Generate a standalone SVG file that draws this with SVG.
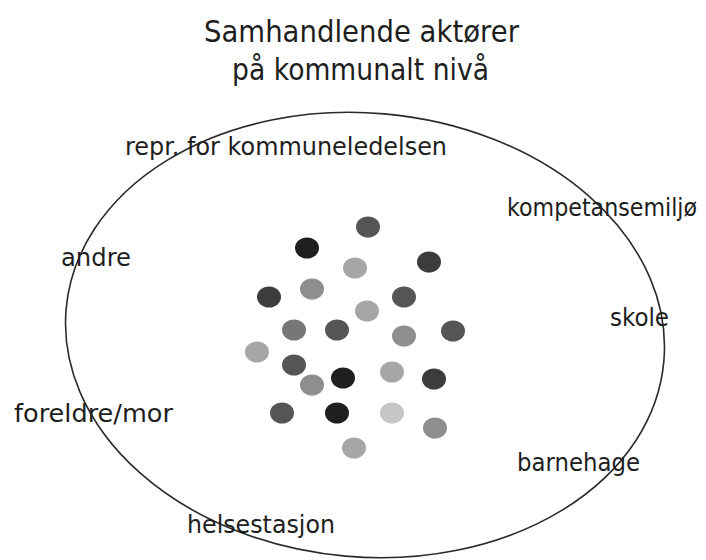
<svg xmlns="http://www.w3.org/2000/svg" width="706" height="560" viewBox="0 0 706 560">
<style>
.t{font-family:"DejaVu Sans","Liberation Sans",sans-serif;fill:#1e1e1e}
.title{font-size:31px}
.lbl{font-size:25px}
.ring{fill:none;stroke:#2a2a2a;stroke-width:1.6}
.d1{fill:#1f1f1f}.d2{fill:#3c3c3c}.d3{fill:#555}.d4{fill:#777}.d5{fill:#8e8e8e}.d6{fill:#a6a6a6}.d7{fill:#c6c6c6}
</style>
<rect width="706" height="560" fill="#fff"/>
<g id="title">
<text class="t title" x="204" y="42" textLength="315" lengthAdjust="spacingAndGlyphs">Samhandlende aktører</text>
<text class="t title" x="232" y="80" textLength="257" lengthAdjust="spacingAndGlyphs">på kommunalt nivå</text>
</g>
<g id="ring">
<ellipse class="ring" cx="365" cy="335" rx="300" ry="222" transform="rotate(5 365 335)"/>
</g>
<g id="labels">
<g id="repr"><text class="t lbl" x="125" y="155" textLength="322" lengthAdjust="spacingAndGlyphs">repr. for kommuneledelsen</text></g>
<g id="kompetansemiljo"><text class="t lbl" x="507" y="216" textLength="190" lengthAdjust="spacingAndGlyphs">kompetansemiljø</text></g>
<g id="andre"><text class="t lbl" x="61" y="266" textLength="70" lengthAdjust="spacingAndGlyphs">andre</text></g>
<g id="skole"><text class="t lbl" x="610" y="326" textLength="59" lengthAdjust="spacingAndGlyphs">skole</text></g>
<g id="foreldre"><text class="t lbl" x="14" y="422" textLength="159" lengthAdjust="spacingAndGlyphs">foreldre/mor</text></g>
<g id="barnehage"><text class="t lbl" x="517" y="471" textLength="123" lengthAdjust="spacingAndGlyphs">barnehage</text></g>
<g id="helsestasjon"><text class="t lbl" x="187" y="533" textLength="148" lengthAdjust="spacingAndGlyphs">helsestasjon</text></g>
</g>
<g id="actors">
<ellipse class="d3" cx="368" cy="227" rx="12" ry="10.5"/>
<ellipse class="d1" cx="307" cy="248" rx="12" ry="10.5"/>
<ellipse class="d2" cx="429" cy="262" rx="12" ry="10.5"/>
<ellipse class="d6" cx="355" cy="268" rx="12" ry="10.5"/>
<ellipse class="d2" cx="269" cy="297" rx="12" ry="10.5"/>
<ellipse class="d5" cx="312" cy="289" rx="12" ry="10.5"/>
<ellipse class="d3" cx="404" cy="297" rx="12" ry="10.5"/>
<ellipse class="d6" cx="367" cy="311" rx="12" ry="10.5"/>
<ellipse class="d4" cx="294" cy="330" rx="12" ry="10.5"/>
<ellipse class="d3" cx="337" cy="330" rx="12" ry="10.5"/>
<ellipse class="d5" cx="404" cy="336" rx="12" ry="10.5"/>
<ellipse class="d3" cx="453" cy="331" rx="12" ry="10.5"/>
<ellipse class="d6" cx="257" cy="352" rx="12" ry="10.5"/>
<ellipse class="d3" cx="294" cy="365" rx="12" ry="10.5"/>
<ellipse class="d5" cx="312" cy="385" rx="12" ry="10.5"/>
<ellipse class="d1" cx="343" cy="378" rx="12" ry="10.5"/>
<ellipse class="d6" cx="392" cy="372" rx="12" ry="10.5"/>
<ellipse class="d2" cx="434" cy="379" rx="12" ry="10.5"/>
<ellipse class="d3" cx="282" cy="413" rx="12" ry="10.5"/>
<ellipse class="d1" cx="337" cy="413" rx="12" ry="10.5"/>
<ellipse class="d7" cx="392" cy="413" rx="12" ry="10.5"/>
<ellipse class="d5" cx="435" cy="428" rx="12" ry="10.5"/>
<ellipse class="d6" cx="354" cy="448" rx="12" ry="10.5"/>
</g>
<g id="connectors"/>
</svg>
